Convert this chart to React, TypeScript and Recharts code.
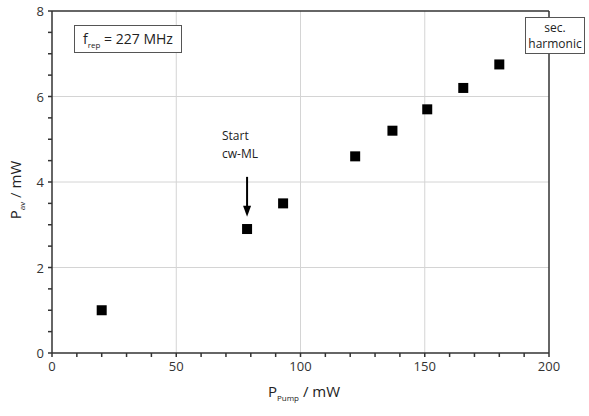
import React from "react";
import {
  ScatterChart,
  Scatter,
  XAxis,
  YAxis,
  ReferenceLine,
} from "recharts";

// pump power (mW) vs. average SHG power (mW)
const pumpPower = [20, 78.5, 93, 122, 137, 151, 165.5, 180];
const avgPower = [1.0, 2.9, 3.5, 4.6, 5.2, 5.7, 6.2, 6.75];

const xTicks = [0, 10, 20, 30, 40, 50, 60, 70, 80, 90, 100, 110, 120, 130, 140, 150, 160, 170, 180, 190, 200];
const xMajor = [0, 50, 100, 150, 200];
const yTicks = [0, 0.5, 1, 1.5, 2, 2.5, 3, 3.5, 4, 4.5, 5, 5.5, 6, 6.5, 7, 7.5, 8];
const yMajor = [0, 2, 4, 6, 8];
const xGrid = [50, 100, 150];
const yGrid = [2, 4, 6];

// arrow marking start of cw mode-locking
const arrowX = 78.5;
const arrowFrom = 4.12;
const arrowTo = 3.19;

const data = pumpPower.map((x, i) => ({ x, y: avgPower[i] }));

const FONT = "'Open Sans', sans-serif";
const AXIS = "#333";

const XTick = (props: any) => {
  const { x, y, payload } = props;
  if (!xMajor.includes(payload.value)) return null;
  return (
    <text x={x} y={y} dy={12} textAnchor="middle" fontSize={13} fill="#333" fontFamily={FONT}>
      {payload.value}
    </text>
  );
};

const YTick = (props: any) => {
  const { x, y, payload } = props;
  if (!yMajor.includes(payload.value)) return null;
  return (
    <text x={x} y={y} dx={-2} dy={5} textAnchor="end" fontSize={13} fill="#333" fontFamily={FONT}>
      {payload.value}
    </text>
  );
};

const Square = (props: any) => {
  const { cx, cy } = props;
  return <rect x={cx - 5} y={cy - 5} width={10} height={10} fill="#000" />;
};

const Arrow = (props: any) => {
  const { x1, y1, x2, y2 } = props;
  return (
    <g>
      <line x1={x1} y1={y1} x2={x2} y2={y2 - 8} stroke="#000" strokeWidth={2} />
      <polygon points={`${x2 - 4},${y2 - 11} ${x2 + 4},${y2 - 11} ${x2},${y2}`} fill="#000" />
    </g>
  );
};

export default function App() {
  return (
    <div style={{ position: "fixed", left: 0, top: 0, width: 589, height: 416, background: "#fff", fontFamily: FONT }}>
      <ScatterChart width={589} height={416} margin={{ top: 11, right: 40, bottom: 33, left: 12 }}>
        <XAxis
          type="number"
          dataKey="x"
          domain={[0, 200]}
          ticks={xTicks}
          interval={0}
          tick={<XTick />}
          tickSize={4}
          height={30}
          stroke={AXIS}
          strokeWidth={1.5}
        />
        <YAxis
          type="number"
          dataKey="y"
          domain={[0, 8]}
          ticks={yTicks}
          interval={0}
          tick={<YTick />}
          tickSize={4}
          width={40}
          stroke={AXIS}
          strokeWidth={1.5}
        />
        {xGrid.map((v) => (
          <ReferenceLine key={"gx" + v} x={v} stroke="#d4d4d4" strokeWidth={1} />
        ))}
        {yGrid.map((v) => (
          <ReferenceLine key={"gy" + v} y={v} stroke="#d4d4d4" strokeWidth={1} />
        ))}
        <ReferenceLine y={8} stroke={AXIS} strokeWidth={1.5} />
        <ReferenceLine x={200} stroke={AXIS} strokeWidth={1.5} />
        <ReferenceLine
          segment={[
            { x: arrowX, y: arrowFrom },
            { x: arrowX, y: arrowTo },
          ]}
          shape={<Arrow />}
        />
        <Scatter data={data} shape={<Square />} isAnimationActive={false} />
      </ScatterChart>

      {/* f_rep box */}
      <div
        style={{
          position: "absolute",
          left: 74,
          top: 25,
          width: 106,
          height: 26,
          border: "1px solid #555",
          background: "#fff",
          fontSize: 14,
          color: "#222",
          display: "flex",
          alignItems: "center",
          justifyContent: "center",
          whiteSpace: "nowrap",
        }}
      >
        <span>
          f<sub style={{ fontSize: 8 }}>rep</sub> = 227 MHz
        </span>
      </div>

      {/* sec. harmonic box */}
      <div
        style={{
          position: "absolute",
          left: 525,
          top: 17,
          width: 58,
          height: 35,
          border: "1px solid #555",
          background: "#fff",
          fontSize: 12,
          lineHeight: "16px",
          color: "#222",
          textAlign: "center",
          display: "flex",
          flexDirection: "column",
          justifyContent: "center",
        }}
      >
        <div>sec.</div>
        <div>harmonic</div>
      </div>

      {/* annotation */}
      <div
        style={{
          position: "absolute",
          left: 222,
          top: 127,
          fontSize: 12,
          lineHeight: "18px",
          color: "#222",
        }}
      >
        Start
        <br />
        cw-ML
      </div>

      {/* x axis title */}
      <div
        style={{
          position: "absolute",
          left: 304,
          top: 392,
          transform: "translate(-50%, -50%)",
          fontSize: 15,
          color: "#222",
          whiteSpace: "nowrap",
        }}
      >
        P<sub style={{ fontSize: 8 }}>Pump</sub> / mW
      </div>

      {/* y axis title */}
      <div
        style={{
          position: "absolute",
          left: 16,
          top: 190,
          transform: "translate(-50%, -50%) rotate(-90deg)",
          fontSize: 15,
          color: "#222",
          whiteSpace: "nowrap",
        }}
      >
        P<sub style={{ fontSize: 8 }}>av</sub> / mW
      </div>
    </div>
  );
}
